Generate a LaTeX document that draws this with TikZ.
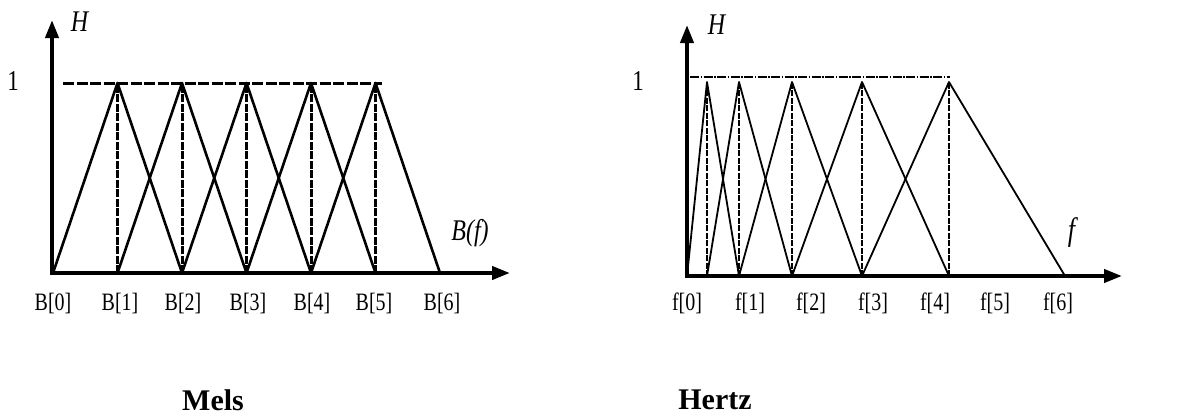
\documentclass[tikz,border=0pt]{standalone}
\usepackage{fontspec}
\setmainfont{Liberation Serif}
\usetikzlibrary{arrows.meta}
\newcommand{\tall}[1]{\scalebox{1}[1.25]{#1}}
\begin{document}
\begin{tikzpicture}[x=1pt, y=-1pt, font=\fontsize{20}{22}\selectfont, line join=round, >={Triangle[length=18pt,width=13pt]}]
	\useasboundingbox (0,0) rectangle (1184,416);
	% Mels
	\draw[line width=4pt,->] (52,275)--(52,20);
	\draw[line width=4pt,->] (50,273)--(510,273);
	\draw[line width=3pt, dash pattern=on 11pt off 2.5pt] (63,83)--(382,83);
	\foreach \k in {1,...,5} {
		\draw[line width=2.6pt] ({53+64.5*(\k-1)},273)--({53+64.5*\k},83)--({53+64.5*(\k+1)},273);
		\draw[line width=3pt, dash pattern=on 8pt off 1.5pt] ({53+64.5*\k},273)--({53+64.5*\k},85);
	}
	\foreach \k/\x in {0/53,1/120,2/183,3/248,4/312,5/374,6/442}
		\node (b\k) at (\x,303) {\tall{B[\k]}};
	\node (oneL) at (13,81) {\fontsize{23}{25}\selectfont\tall{1}};
	\node (hL) at (80,22) {\fontsize{24}{26}\selectfont\tall{\textit{H}}};
	\node (bf) at (470,233) {\fontsize{24}{26}\selectfont\tall{\textit{B(f)}}};
	\node (mels) at (213,400) {\fontsize{30}{32}\selectfont\bfseries Mels};
	% Hertz
	\draw[line width=4pt,->] (687,278)--(687,25);
	\draw[line width=4pt,->] (685,276)--(1122,276);
	\draw[line width=2.6pt, dash pattern=on 9pt off 1.5pt on 1.5pt off 1.5pt] (690,77)--(950,77);
	\foreach \a/\b/\c in {687/707/739, 707/739/792, 739/792/862, 792/862/949, 862/949/1065} {
		\draw[line width=1.8pt] (\a,276)--(\b,82)--(\c,276);
		\draw[line width=2.4pt, dash pattern=on 6pt off 1.5pt] (\b,276)--(\b,84);
	}
	\foreach \k/\x in {0/687,1/750,2/811,3/873,4/935,5/995,6/1058}
		\node (f\k) at (\x,303) {\tall{f[\k]}};
	\node (oneR) at (638,81) {\fontsize{23}{25}\selectfont\tall{1}};
	\node (hR) at (717,25) {\fontsize{24}{26}\selectfont\tall{\textit{H}}};
	\node (fax) at (1073,233) {\fontsize{26}{28}\selectfont\tall{\textit{f}}};
	\node (hertz) at (715,400) {\fontsize{30}{32}\selectfont\bfseries Hertz};
\end{tikzpicture}
\end{document}
